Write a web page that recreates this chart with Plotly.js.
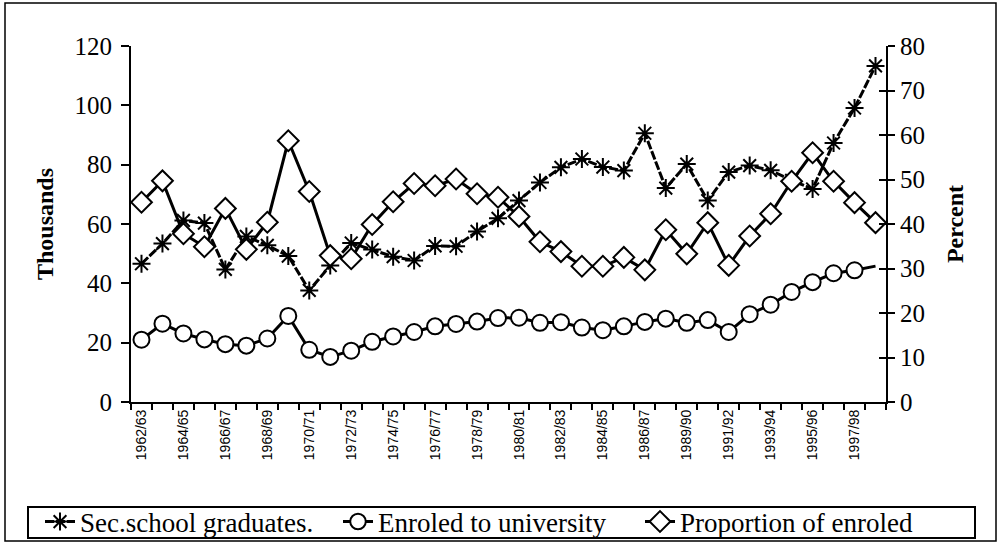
<!DOCTYPE html>
<html>
<head>
<meta charset="utf-8">
<script src="https://cdn.plot.ly/plotly-3.0.1.min.js"></script>
<style>html,body{margin:0;padding:0;background:#fff;}#chart{width:1001px;height:547px;}</style>
</head>
<body>
<div id="chart"></div>
<script>
const years = ["1962/63","1963/64","1964/65","1965/66","1966/67","1967/68","1968/69","1969/70","1970/71","1971/72",
  "1972/73","1973/74","1974/75","1975/76","1976/77","1977/78","1978/79","1979/80","1980/81","1981/82",
  "1982/83","1983/84","1984/85","1985/86","1986/87","1987/88","1989/90","1990/91","1991/92","1992/93",
  "1993/94","1994/95","1995/96","1996/97","1997/98","1998/99"];
const graduates = [46.6, 53.4, 61.2, 60.3, 44.7, 55.8, 52.8, 49.2, 37.6, 46.0,
  53.6, 51.4, 49.0, 47.7, 52.6, 52.5, 57.5, 61.9, 67.9, 74.0,
  79.1, 81.9, 79.2, 78.0, 90.6, 72.1, 80.2, 67.9, 77.5, 79.7,
  78.1, 74.7, 71.8, 87.3, 99.1, 113.3];
const enrolled = [21.0, 26.4, 23.1, 21.1, 19.5, 19.0, 21.4, 29.0, 17.6, 15.2,
  17.3, 20.3, 22.1, 23.6, 25.5, 26.3, 27.1, 28.3, 28.4, 26.7,
  26.9, 25.1, 24.2, 25.5, 27.0, 28.1, 26.7, 27.6, 23.6, 29.6,
  32.8, 37.1, 40.4, 43.4, 44.4, 45.8];
const proportion = [44.9, 49.7, 37.8, 34.9, 43.5, 34.3, 40.4, 58.7, 47.3, 32.9,
  32.2, 39.9, 45.0, 49.1, 48.6, 50.1, 46.8, 46.0, 41.7, 36.0,
  33.8, 30.5, 30.5, 32.5, 29.7, 38.7, 33.3, 40.3, 30.7, 37.3,
  42.3, 49.6, 56.0, 49.6, 44.8, 40.3];
const tickLabels = years.map((y, i) => (i % 2 === 0 ? y : ""));
const seriesNames = ["Sec.school graduates.", "Enroled to university", "Proportion of enroled"];

const serif = "'Liberation Serif', 'DejaVu Serif', serif";
const enrolledSizes = enrolled.map((v, i) => (i === enrolled.length - 1 ? 0 : 16));

const traces = [
  {x: years, y: graduates, name: seriesNames[0], type: "scatter", mode: "lines+markers", legend: "legend",
   line: {color: "#000", width: 3, dash: "9px,2px"},
   marker: {symbol: "asterisk-open", size: 15, color: "#000", opacity: 1, line: {color: "#000", width: 2}}},
  {x: years, y: enrolled, name: seriesNames[1], type: "scatter", mode: "lines+markers", legend: "legend2",
   line: {color: "#000", width: 3},
   marker: {symbol: "circle", size: enrolledSizes, color: "#fff", opacity: 1, line: {color: "#000", width: 2}}},
  {x: years, y: proportion, name: seriesNames[2], type: "scatter", mode: "lines+markers", yaxis: "y2", legend: "legend3",
   line: {color: "#000", width: 3},
   marker: {symbol: "diamond", size: 16, color: "#fff", opacity: 1, line: {color: "#000", width: 2}}}
];

const L = 131, R = 886, T = 46, B = 402;
const pw = R - L, ph = B - T;
const px = v => (v - L) / pw;
const py = v => (B - v) / ph;

const legendBase = (left) => ({orientation: "h", x: px(left), xanchor: "left", y: py(522), yanchor: "middle",
  borderwidth: 0, bgcolor: "rgba(0,0,0,0)", font: {family: serif, size: 27, color: "#000"}, itemwidth: 30});

const layout = {
  width: 1001, height: 547,
  margin: {l: L, r: 1001 - R, t: T, b: 547 - B, autoexpand: false},
  paper_bgcolor: "#fff", plot_bgcolor: "#fff",
  font: {family: serif, color: "#000", size: 24},
  showlegend: true,
  legend: legendBase(40),
  legend2: legendBase(338),
  legend3: legendBase(640),
  xaxis: {type: "category", range: [-0.5, years.length - 0.5], tickmode: "array",
    tickvals: years, ticktext: tickLabels, tickangle: -90, tickson: "boundaries",
    ticks: "outside", ticklen: 6, tickwidth: 2, tickcolor: "#000",
    showline: true, linecolor: "#000", linewidth: 2, showgrid: false, zeroline: false,
    tickfont: {family: "'Liberation Sans', Arial, sans-serif", size: 14, color: "#000"}},
  yaxis: {range: [0, 120], dtick: 20, ticks: "outside", ticklen: 8, tickwidth: 2, tickcolor: "#000",
    showline: true, linecolor: "#000", linewidth: 2, showgrid: false, zeroline: false,
    ticklabelstandoff: 4,
    tickfont: {family: serif, size: 25, color: "#000"},
    title: {text: "<b>Thousands</b>", font: {family: serif, size: 24, color: "#000"}, standoff: 14}},
  yaxis2: {range: [0, 80], dtick: 10, overlaying: "y", side: "right", ticks: "outside", ticklen: 7,
    tickwidth: 2, tickcolor: "#000", showline: true, linecolor: "#000", linewidth: 2,
    showgrid: false, zeroline: false, tickfont: {family: serif, size: 25, color: "#000"},
    title: {text: "<b>Percent</b>", font: {family: serif, size: 24, color: "#000"}, standoff: 22}},
  yaxis3: {range: [0, 80], dtick: 10, overlaying: "y", side: "right", ticks: "inside", ticklen: 7,
    tickwidth: 2, tickcolor: "#000", showticklabels: false, showline: false, showgrid: false,
    zeroline: false},
  shapes: [
    {type: "rect", xref: "paper", yref: "paper", x0: px(5), x1: px(996), y0: py(3), y1: py(541),
     line: {color: "#000", width: 1.5}, fillcolor: "rgba(0,0,0,0)", layer: "below"},
    {type: "rect", xref: "paper", yref: "paper", x0: px(28), x1: px(975), y0: py(507), y1: py(538),
     line: {color: "#000", width: 2}, fillcolor: "rgba(0,0,0,0)", layer: "below"}
  ]
};

traces.push({x: [years[0]], y: [0], yaxis: "y3", type: "scatter", mode: "markers",
  marker: {opacity: 0}, showlegend: false, hoverinfo: "skip"});

Plotly.newPlot("chart", traces, layout, {displayModeBar: false, staticPlot: true});
</script>
</body>
</html>
